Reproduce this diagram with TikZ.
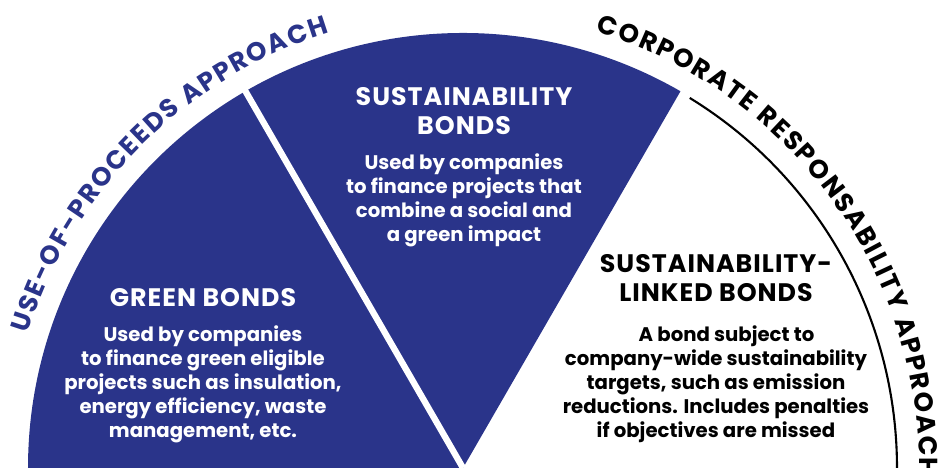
\documentclass[tikz,border=0pt]{standalone}
\usepackage{fontspec}
\setmainfont{Poppins}
\newfontfamily\headfamily{Poppins}[LetterSpace=4]
\usetikzlibrary{positioning, decorations.text}
\definecolor{bondblue}{RGB}{42,52,138}
\newcommand{\arcfont}{\bfseries\fontsize{7.4}{8}\selectfont}

\begin{document}
\begin{tikzpicture}[x=0.01cm, y=0.01cm,
    head/.style={align=center, inner sep=0pt, font=\headfamily\bfseries\fontsize{7.2}{8.2}\selectfont},
    body/.style={align=center, inner sep=0pt, font=\bfseries\fontsize{5.6}{6.8}\selectfont},
    rimtext/.style={decorate, decoration={text effects along path, text align=center,
        text={#1}, text effects/.cd, text along path,
        character widths={inner xsep=0.25pt, font=\arcfont}, characters={inner xsep=0.25pt, font=\arcfont}}}]
    \useasboundingbox (0,0) rectangle (947,468);
    \clip (0,0) rectangle (947,468);
    \coordinate (o) at (463,0);

    % the two blue sectors, split by a white gap
    \fill[bondblue] (o) -- ([shift={(180:435)}]o) arc[start angle=180, end angle=60, radius=435] -- cycle;
    \draw[white, line width=1.8pt] (o) -- ([shift={(120:445)}]o);
    \draw[line width=0.6pt] ([shift={(58.5:434)}]o) arc[start angle=58.5, end angle=0, radius=434];

    % approaches written round the rim
    \begin{scope}[text=bondblue]
    \path[rimtext={USE-OF-PROCEEDS APPROACH}]
        ([shift={(180:455)}]o) arc[start angle=180, end angle=90, radius=455];
    \end{scope}
    \path[rimtext={CORPORATE RESPONSABILITY APPROACH}]
        ([shift={(81:456)}]o) arc[start angle=81, end angle=-9, radius=456];

    \node (greenhead) [head, text=white] at (203,170) {GREEN BONDS};
    \node (greenbody) [body, text=white, below=5pt of greenhead] {Used by companies\\to finance green eligible\\projects such as insulation,\\energy efficiency, waste\\management, etc.};

    \node (susthead) [head, text=white] at (464,357) {SUSTAINABILITY\\BONDS};
    \node (sustbody) [body, text=white, below=5pt of susthead] {Used by companies\\to finance projects that\\combine a social and\\a green impact};

    \node (linkhead) [head] at (716,190) {SUSTAINABILITY-\\LINKED BONDS};
    \node (linkbody) [body, below=6.5pt of linkhead] {\hspace*{6pt}A bond subject to\\company-wide sustainability\\targets, such as emission\\reductions. Includes penalties\\if objectives are missed};
\end{tikzpicture}
\end{document}
